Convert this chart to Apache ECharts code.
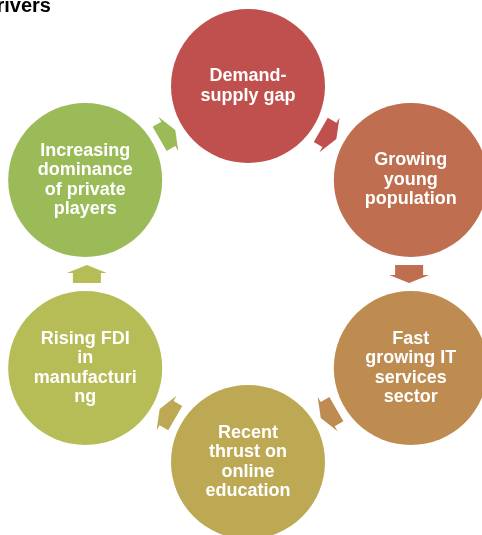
<!DOCTYPE html>
<html>
<head>
<meta charset="utf-8">
<script src="https://cdn.jsdelivr.net/npm/echarts@6/dist/echarts.min.js"></script>
<style>
html,body{margin:0;padding:0;background:#fff;}
#chart{width:482px;height:535px;}
</style>
</head>
<body>
<div id="chart"></div>
<script>
// Cycle steps (clockwise from top)
const steps = [
  'Demand-\nsupply gap',
  'Growing\nyoung\npopulation',
  'Fast\ngrowing IT\nservices\nsector',
  'Recent\nthrust on\nonline\neducation',
  'Rising FDI\nin\nmanufacturi\nng',
  'Increasing\ndominance\nof private\nplayers'
];
const titleText = 'Drivers';

// style palette (not data)
const palette = ['#C0504D', '#BF6F4F', '#BE8C51', '#BDA853', '#B6BC56', '#9BBB59'];
const FONT = '"Liberation Sans", Arial, sans-serif';

const n = steps.length;
// angle axis slots: node, arrow, node, arrow ...
const slots = [];
for (let i = 0; i < n; i++) { slots.push('n' + i); slots.push('a' + i); }
const step = 360 / slots.length;

const nodeData = steps.map((s, i) => ({
  value: [1, 2 * i],
  name: s,
  itemStyle: { color: palette[i], opacity: 1 }
}));
const arrowData = steps.map((s, i) => {
  const theta = 90 - (2 * i + 1) * step;
  return {
    value: [0.857, 2 * i + 1],
    symbolRotate: theta - 180,
    itemStyle: { color: palette[i], opacity: 1 }
  };
});

const chart = echarts.init(document.getElementById('chart'), null, { renderer: 'canvas' });
chart.setOption({
  animation: false,
  backgroundColor: '#fff',
  title: {
    text: titleText,
    left: -18,
    top: -4,
    padding: 0,
    textStyle: { fontSize: 20, fontWeight: 'bold', color: '#000', fontFamily: FONT }
  },
  polar: { center: [248, 274], radius: 188 },
  angleAxis: {
    type: 'category',
    data: slots,
    startAngle: 90,
    clockwise: true,
    boundaryGap: false,
    show: false
  },
  radiusAxis: { type: 'value', min: 0, max: 1, show: false },
  series: [
    {
      type: 'scatter',
      coordinateSystem: 'polar',
      symbol: 'path://M20,0 L40,8 L34,8 L34,18 L6,18 L6,8 L0,8 Z',
      symbolSize: [40, 18],
      symbolKeepAspect: false,
      data: arrowData,
      itemStyle: { opacity: 1 },
      silent: true,
      z: 1
    },
    {
      type: 'scatter',
      coordinateSystem: 'polar',
      symbol: 'circle',
      symbolSize: 154,
      data: nodeData,
      itemStyle: { opacity: 1 },
      silent: true,
      z: 2,
      label: {
        show: true,
        position: 'inside',
        formatter: p => p.name,
        color: '#fff',
        fontSize: 18,
        lineHeight: 19.5,
        fontWeight: 'bold',
        fontFamily: FONT,
        align: 'center'
      }
    }
  ]
});
</script>
</body>
</html>
